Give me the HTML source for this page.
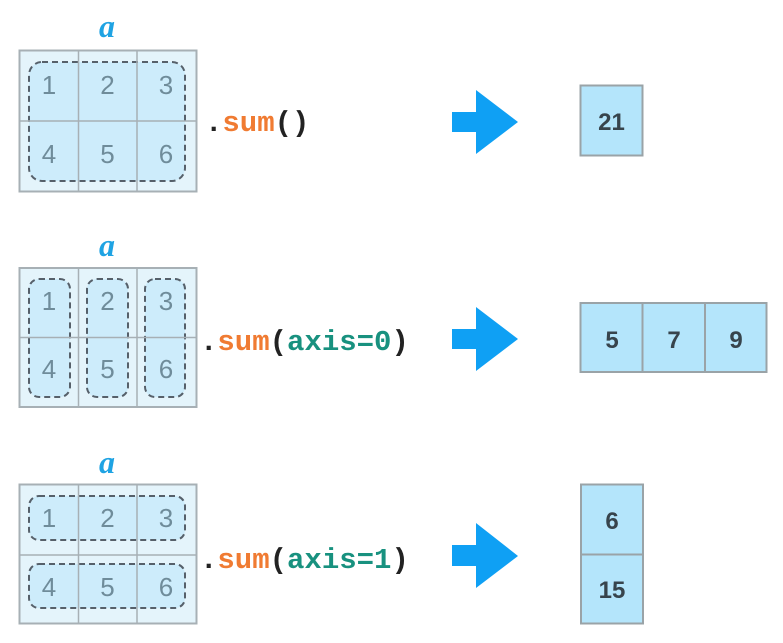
<!DOCTYPE html>
<html><head><meta charset="utf-8"><style>
html,body{margin:0;padding:0;background:#fff;}
svg{display:block;}
.a{font-family:"Liberation Serif",serif;font-weight:bold;font-style:italic;font-size:32px;fill:#1fa3e3;}
.n{font-family:"Liberation Sans",sans-serif;font-size:26px;fill:#6f8c9a;text-anchor:middle;}
.r{font-family:"Liberation Sans",sans-serif;font-size:24px;font-weight:bold;fill:#37444c;text-anchor:middle;}
.c{font-family:"Liberation Mono",monospace;font-size:29px;font-weight:bold;fill:#222;}
.o{fill:#f07b32;}
.t{fill:#18917f;}
.d{fill:#cdecfb;stroke:#56606a;stroke-width:2;stroke-dasharray:6 4;}
</style></head><body>
<svg width="783" height="643" viewBox="0 0 783 643" xmlns="http://www.w3.org/2000/svg">
<!-- Row 1 -->
<text class="a" x="107" y="37" text-anchor="middle">a</text>
<rect x="19.5" y="50.5" width="177" height="141" fill="#e4f4fb" stroke="#a7b0b5" stroke-width="2"/>
<rect x="29" y="62" width="156" height="119" rx="13" class="d"/>
<line x1="78.5" y1="50" x2="78.5" y2="192" stroke="#a7b0b5" stroke-width="1.5"/>
<line x1="137" y1="50" x2="137" y2="192" stroke="#a7b0b5" stroke-width="1.5"/>
<line x1="19" y1="121" x2="197" y2="121" stroke="#a7b0b5" stroke-width="1.5"/>
<text class="n" x="49" y="94">1</text><text class="n" x="107.5" y="94">2</text><text class="n" x="166" y="94">3</text>
<text class="n" x="49" y="163">4</text><text class="n" x="107.5" y="163">5</text><text class="n" x="166" y="163">6</text>
<text class="c" x="205" y="131">.<tspan class="o">sum</tspan>()</text>
<polygon points="452,112 476,112 476,90 518,122 476,154 476,132 452,132" fill="#0fa0f4"/>
<rect x="580.5" y="85.5" width="62" height="70" fill="#b4e5fb" stroke="#9aa3a7" stroke-width="2"/>
<text class="r" x="611.5" y="130">21</text>

<!-- Row 2 -->
<text class="a" x="107" y="256" text-anchor="middle">a</text>
<rect x="19.5" y="268" width="177" height="139" fill="#e4f4fb" stroke="#a7b0b5" stroke-width="2"/>
<rect x="29" y="279" width="41" height="118" rx="10" class="d"/>
<rect x="87" y="279" width="41" height="118" rx="10" class="d"/>
<rect x="145" y="279" width="40" height="118" rx="10" class="d"/>
<line x1="78.5" y1="268" x2="78.5" y2="408" stroke="#a7b0b5" stroke-width="1.5"/>
<line x1="137" y1="268" x2="137" y2="408" stroke="#a7b0b5" stroke-width="1.5"/>
<line x1="19" y1="337.5" x2="197" y2="337.5" stroke="#a7b0b5" stroke-width="1.5"/>
<text class="n" x="49" y="310">1</text><text class="n" x="107.5" y="310">2</text><text class="n" x="166" y="310">3</text>
<text class="n" x="49" y="378">4</text><text class="n" x="107.5" y="378">5</text><text class="n" x="166" y="378">6</text>
<text class="c" x="200" y="350">.<tspan class="o">sum</tspan>(<tspan class="t">axis=0</tspan>)</text>
<polygon points="452,329 476,329 476,307 518,339 476,371 476,349 452,349" fill="#0fa0f4"/>
<rect x="580.5" y="303" width="186" height="69" fill="#b4e5fb" stroke="#9aa3a7" stroke-width="2"/>
<line x1="642.5" y1="303" x2="642.5" y2="372" stroke="#9aa3a7" stroke-width="2"/>
<line x1="705" y1="303" x2="705" y2="372" stroke="#9aa3a7" stroke-width="2"/>
<text class="r" x="612" y="348">5</text><text class="r" x="674" y="348">7</text><text class="r" x="736" y="348">9</text>

<!-- Row 3 -->
<text class="a" x="107" y="473" text-anchor="middle">a</text>
<rect x="19.5" y="484.5" width="177" height="139" fill="#e4f4fb" stroke="#a7b0b5" stroke-width="2"/>
<rect x="29" y="496" width="156" height="44" rx="10" class="d"/>
<rect x="29" y="564" width="156" height="44" rx="10" class="d"/>
<line x1="78.5" y1="484" x2="78.5" y2="624" stroke="#a7b0b5" stroke-width="1.5"/>
<line x1="137" y1="484" x2="137" y2="624" stroke="#a7b0b5" stroke-width="1.5"/>
<line x1="19" y1="555" x2="197" y2="555" stroke="#a7b0b5" stroke-width="1.5"/>
<text class="n" x="49" y="527">1</text><text class="n" x="107.5" y="527">2</text><text class="n" x="166" y="527">3</text>
<text class="n" x="49" y="596">4</text><text class="n" x="107.5" y="596">5</text><text class="n" x="166" y="596">6</text>
<text class="c" x="200" y="568">.<tspan class="o">sum</tspan>(<tspan class="t">axis=1</tspan>)</text>
<polygon points="452,545 476,545 476,523 518,556 476,588 476,566 452,566" fill="#0fa0f4"/>
<rect x="581" y="484.5" width="62" height="139" fill="#b4e5fb" stroke="#9aa3a7" stroke-width="2"/>
<line x1="581" y1="554.5" x2="643" y2="554.5" stroke="#9aa3a7" stroke-width="2"/>
<text class="r" x="612" y="529">6</text>
<text class="r" x="612" y="598">15</text>
</svg>
</body></html>
